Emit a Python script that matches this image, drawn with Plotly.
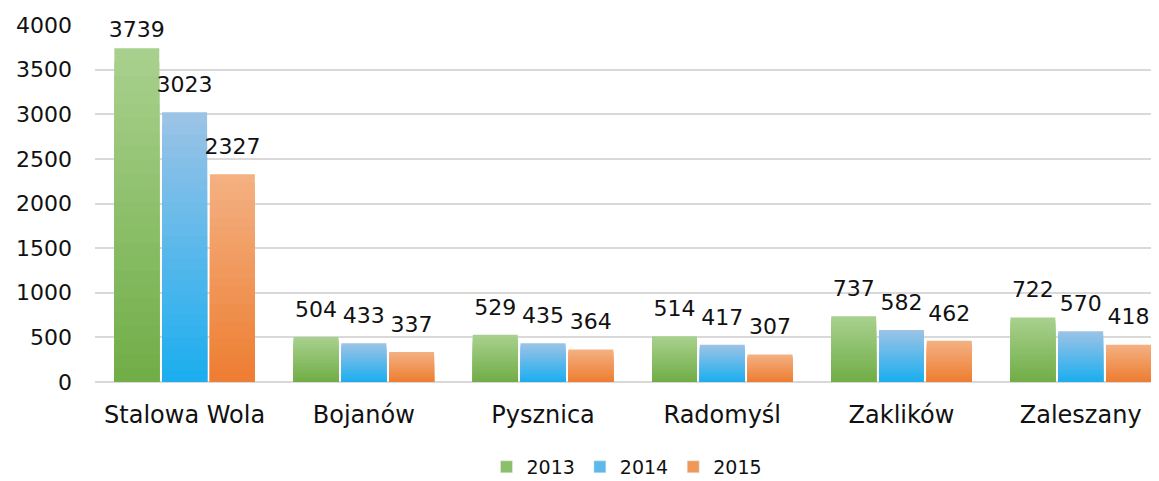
import plotly.graph_objects as go

categories = ["Stalowa Wola", "Bojanów", "Pysznica", "Radomyśl", "Zaklików", "Zaleszany"]
years = ["2013", "2014", "2015"]
values_2013 = [3739, 504, 529, 514, 737, 722]
values_2014 = [3023, 433, 435, 417, 582, 570]
values_2015 = [2327, 337, 364, 307, 462, 418]
y_ticks = [0, 500, 1000, 1500, 2000, 2500, 3000, 3500, 4000]

series = [values_2013, values_2014, values_2015]
# (bottom colour, top colour) of each series' vertical gradient
gradients = [((0x70, 0xad, 0x47), (0xa9, 0xd1, 0x8e)),
             ((0x1a, 0xae, 0xef), (0x9d, 0xc3, 0xe6)),
             ((0xed, 0x7d, 0x31), (0xf4, 0xb1, 0x83))]
legend_colors = ["#8cbf6a", "#5cb9ea", "#f0975a"]

FONT = "Century Gothic, DejaVu Sans, sans-serif"
N_STEPS = 24
Y_MAX = 4000


def mix(c0, c1, t):
    return "rgb(%d,%d,%d)" % tuple(round(a + (b - a) * t) for a, b in zip(c0, c1))


fig = go.Figure()
for name, vals, (c_bot, c_top), lcol in zip(years, series, gradients, legend_colors):
    # overlapping bars from the tallest (top colour) to the shortest (bottom colour)
    for j in range(N_STEPS - 1, -1, -1):
        frac_h = (j + 1) / N_STEPS
        frac_c = (j + 0.5) / N_STEPS
        fig.add_trace(go.Bar(
            x=categories,
            y=[v * frac_h for v in vals],
            name=name, legendgroup=name, showlegend=False,
            offsetgroup=name, alignmentgroup="a",
            marker=dict(color=mix(c_bot, c_top, frac_c), line=dict(width=0)),
            hoverinfo="skip",
        ))
    # legend entry for the series
    fig.add_trace(go.Bar(
        x=[None], y=[None], name=name, legendgroup=name, showlegend=True,
        marker=dict(color=lcol), offsetgroup=name, alignmentgroup="a",
    ))

# value labels above the bars (invisible markers push the text up a little;
# labels near the top of the plot are kept closer to the bar, as in the original)
for name, vals in zip(years, series):
    fig.add_trace(go.Scatter(
        x=categories, y=vals, mode="markers+text",
        text=[str(v) for v in vals], textposition="top center",
        textfont=dict(size=22, color="#111111", family=FONT),
        marker=dict(size=[8 if v > 0.9 * Y_MAX else 22 for v in vals], opacity=0),
        offsetgroup=name, alignmentgroup="a",
        showlegend=False, hoverinfo="skip", cliponaxis=False,
    ))

fig.update_layout(
    width=1151, height=473,
    barmode="group", bargap=0.2, bargroupgap=0.06,
    scattermode="group", scattergap=0.2,
    plot_bgcolor="white", paper_bgcolor="white",
    margin=dict(l=87, r=0, t=17, b=99, autoexpand=False),
    font=dict(family=FONT, size=20, color="#111111"),
    legend=dict(orientation="h", x=0.5, xanchor="center", y=-0.238, yanchor="middle",
                font=dict(size=19), itemwidth=30, traceorder="normal"),
    showlegend=True,
)
fig.update_xaxes(range=[-0.5, 5.437], showgrid=False, ticks="", showline=False,
                 tickfont=dict(size=24), ticklabelstandoff=16, automargin=False)
fig.update_yaxes(range=[0, Y_MAX], tickvals=y_ticks, showgrid=True, gridcolor="#d9d9d9",
                 gridwidth=1.5, zeroline=True, zerolinecolor="#d9d9d9", zerolinewidth=1.5,
                 showline=False, ticks="", tickfont=dict(size=22), ticklabelstandoff=22,
                 automargin=False)

fig.write_html("out.html")
